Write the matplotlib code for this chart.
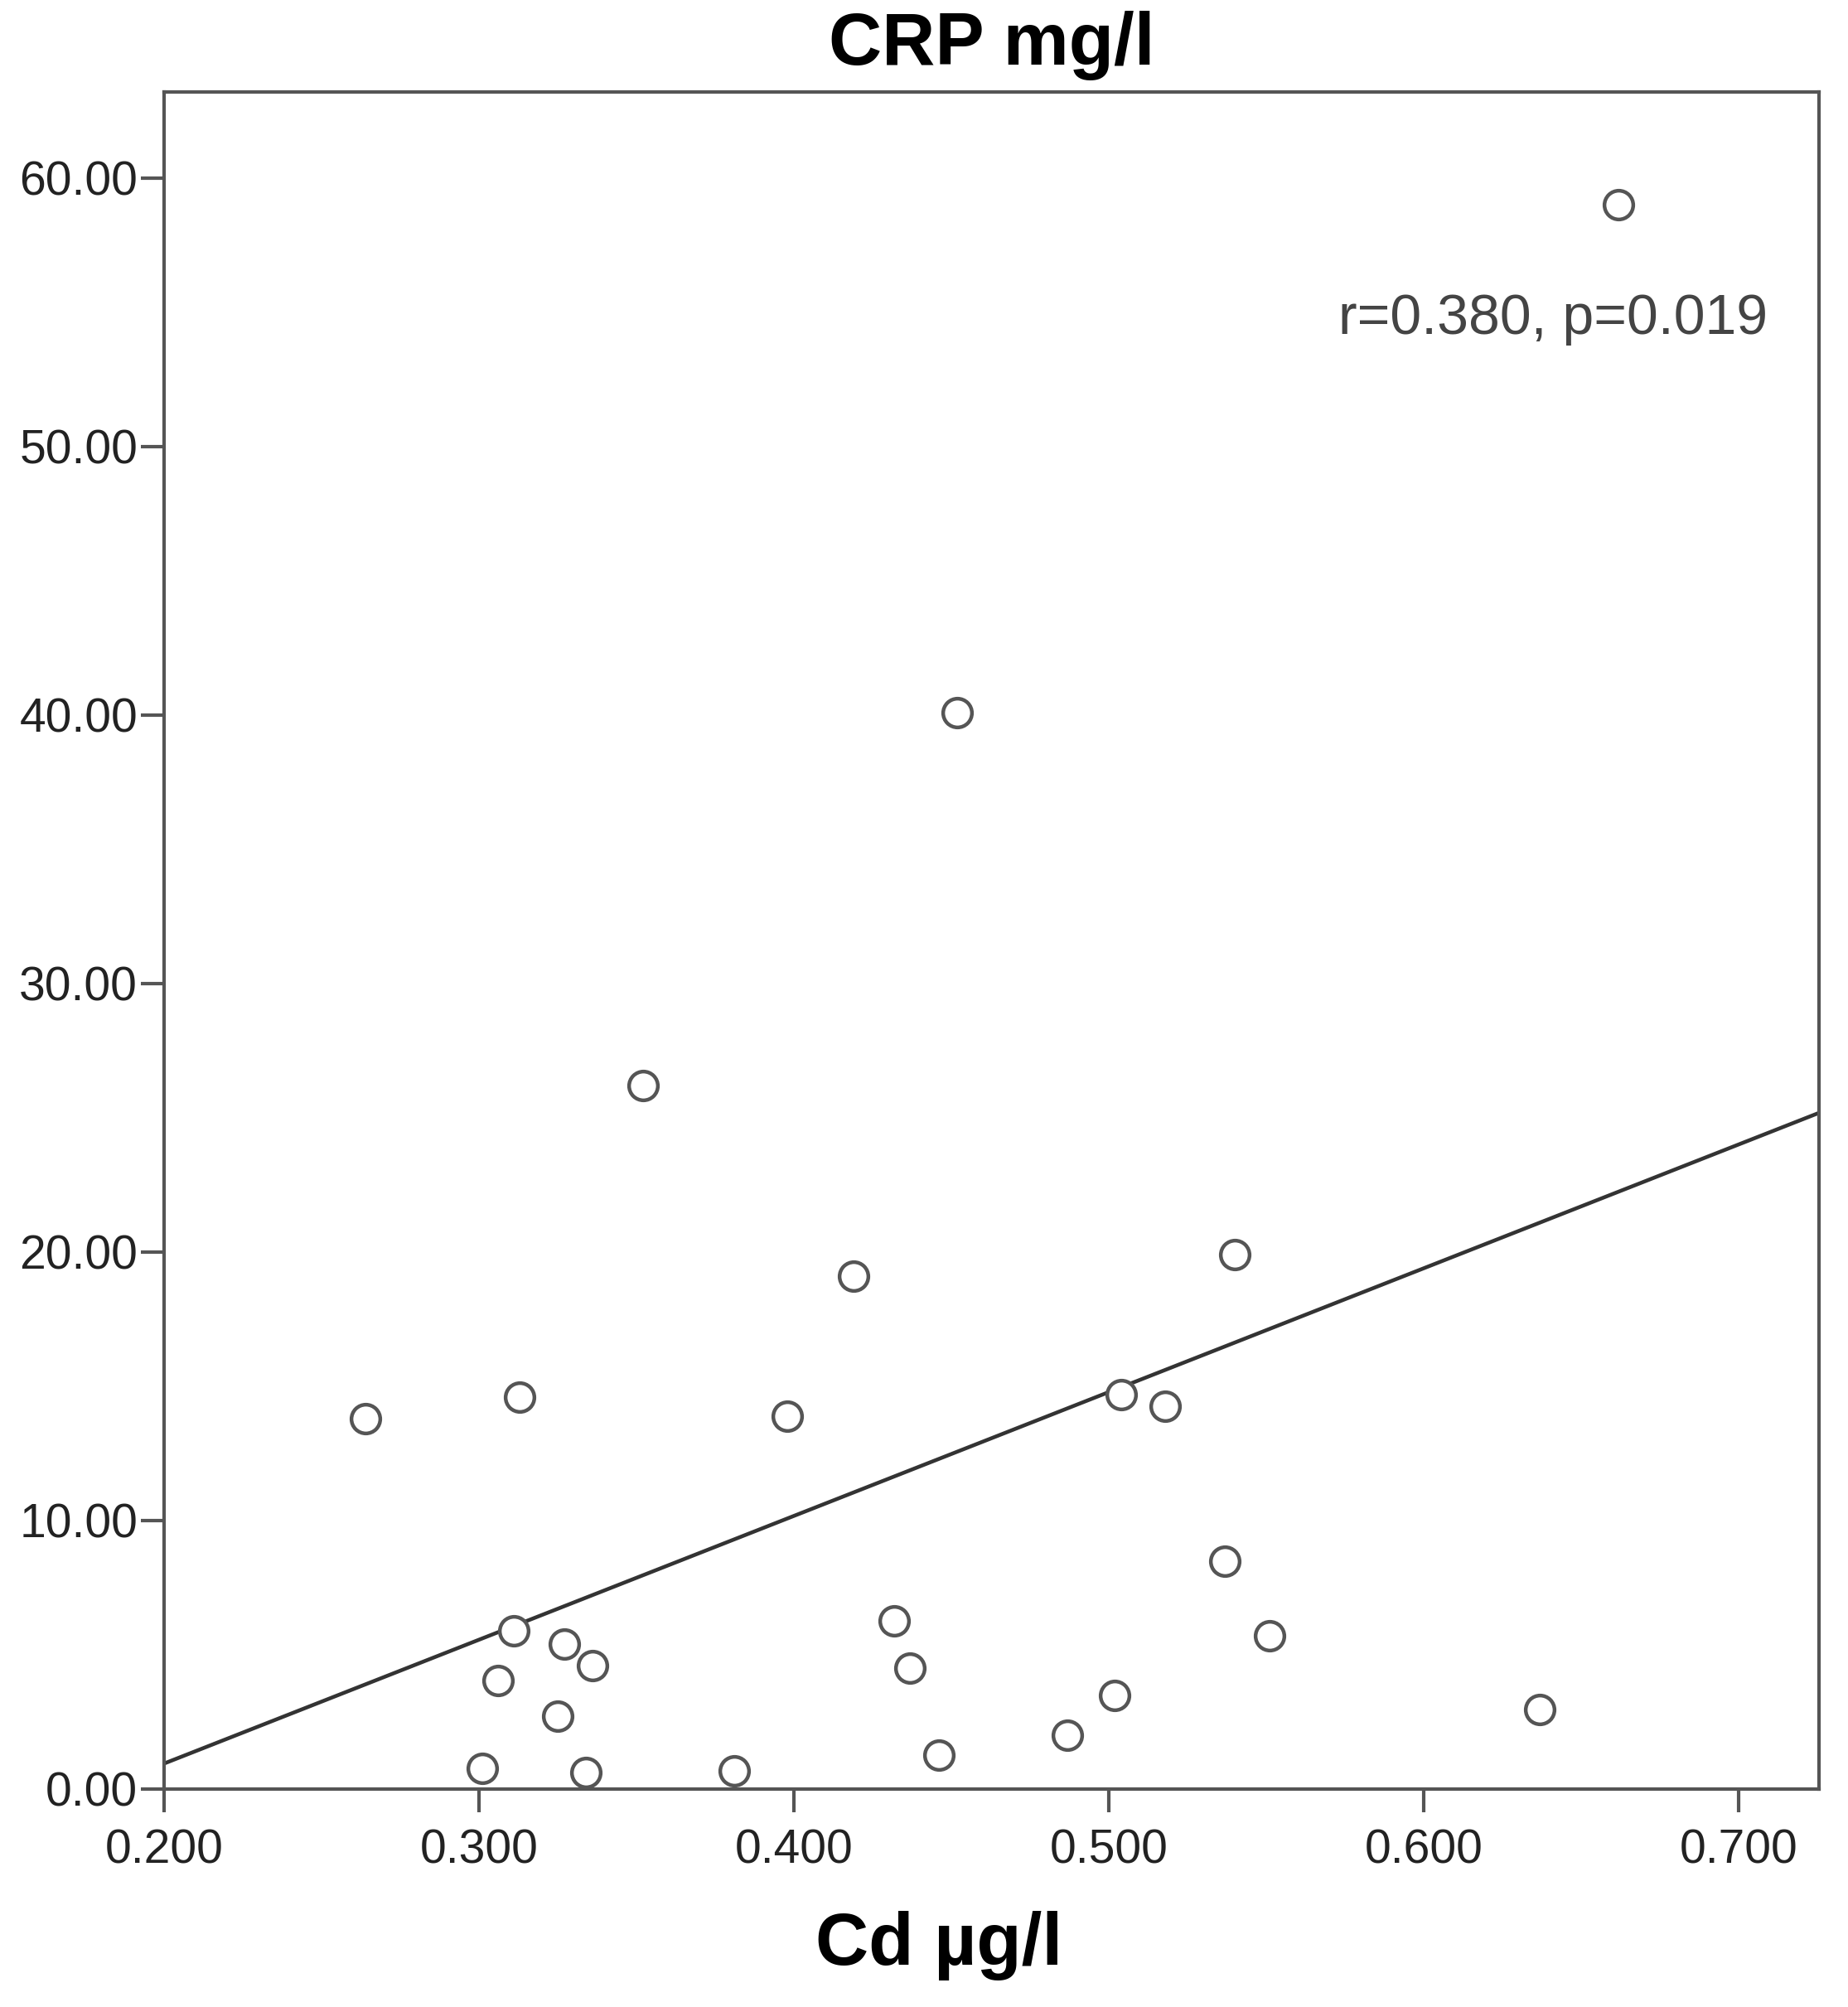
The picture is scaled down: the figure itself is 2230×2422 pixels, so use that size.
import numpy as np
import matplotlib
matplotlib.use('Agg')
from matplotlib import pyplot as plt

# Cd (ug/l) vs CRP (mg/l)
cd = [0.662, 0.452, 0.352, 0.419, 0.540, 0.264, 0.313, 0.398, 0.504, 0.518,
      0.537, 0.311, 0.327, 0.336, 0.306, 0.325, 0.301, 0.334, 0.381, 0.432,
      0.437, 0.446, 0.487, 0.502, 0.551, 0.637]
crp = [59.0, 40.1, 26.2, 19.1, 19.9, 13.8, 14.6, 13.9, 14.7, 14.25,
       8.5, 5.9, 5.4, 4.6, 4.05, 2.7, 0.76, 0.62, 0.67, 6.25,
       4.5, 1.25, 2.0, 3.5, 5.7, 2.95]

# fitted line as drawn in the reference
fit_slope = 46.1
fit_intercept = -8.27

x_ticks = [0.2, 0.3, 0.4, 0.5, 0.6, 0.7]
y_ticks = [0, 10, 20, 30, 40, 50, 60]
stat_label = 'r=0.380, p=0.019'

plt.rcParams['font.family'] = ['Liberation Sans', 'DejaVu Sans']

fig = plt.figure(figsize=(22.3, 24.22), dpi=100)
ax = fig.add_axes([0.0888, 0.1086, 0.8955, 0.8456])

xlim = (0.2, 0.7256)
ylim = (0, 63.2)

xs = np.array(xlim)
ax.plot(xs, fit_intercept + fit_slope * xs, color='#333333', linewidth=3.3, zorder=2)

ax.plot(cd, crp, linestyle='none', marker='o', markersize=25, markerfacecolor='white',
        markeredgecolor='#555555', markeredgewidth=3.2, zorder=3)

ax.set_xlim(xlim)
ax.set_ylim(ylim)
ax.set_xticks(x_ticks)
ax.set_xticklabels(['{:.3f}'.format(v) for v in x_ticks])
ax.set_yticks(y_ticks)
ax.set_yticklabels(['{:.2f}'.format(v) for v in y_ticks])

for s in ax.spines.values():
    s.set_color('#555555')
    s.set_linewidth(3.0)

ax.tick_params(axis='both', direction='out', length=20, width=3.0, color='#555555',
               labelsize=41, labelcolor='#222222')
ax.tick_params(axis='x', pad=14)
ax.tick_params(axis='y', pad=3)

ax.text(0.573, 54.2, stat_label, fontsize=49, color='#444444', ha='left', va='baseline')

ax.set_title('CRP mg/l', fontsize=64, fontweight='bold', pad=24)
ax.set_xlabel('Cd µg/l', fontsize=64, fontweight='bold')
ax.xaxis.set_label_coords(0.468, -0.072)

fig.savefig('out.png', dpi=100, facecolor='white')
